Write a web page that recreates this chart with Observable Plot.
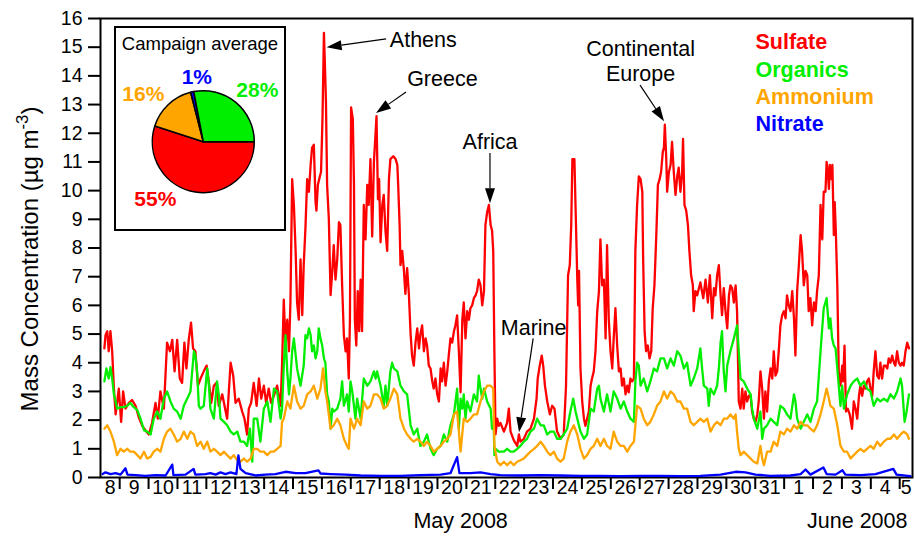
<!DOCTYPE html>
<html>
<head>
<meta charset="utf-8">
<script src="https://cdn.jsdelivr.net/npm/d3@7"></script>
<script src="https://cdn.jsdelivr.net/npm/@observablehq/plot@0.6"></script>
<style>
  body { margin: 0; background: #fff; }
  #chart svg { display: block; }
</style>
</head>
<body>
<div id="chart"></div>
<script>
// Aerosol composition time series, 8 May – 5 June 2008.
// Times are days since 2008-05-08 00:00 UTC; values in µg m-3.

const sulfate = [
[0.47,4.5],[0.51,4.96],[0.57,5.1],[0.62,4.4],[0.68,5.1],[0.74,4.4],[0.80,3.1],[0.86,2.2],[0.97,3.1],[1.05,1.94],[1.12,3.0],[1.20,2.4],[1.32,2.6],[1.43,2.7],[1.55,2.5],[1.66,2.1],[1.78,1.8],[1.89,1.65],[2.01,1.5],[2.12,1.9],[2.24,2.6],[2.32,2.05],[2.41,3.0],[2.53,2.4],[2.64,4.7],[2.74,4.4],[2.82,4.8],[2.90,3.7],[2.99,4.8],[3.08,3.45],[3.16,3.3],[3.24,4.7],[3.31,3.8],[3.39,4.8],[3.47,5.4],[3.54,4.5],[3.62,4.4],[3.71,3.2],[3.80,3.45],[3.91,3.7],[4.01,3.9],[4.09,3.3],[4.17,2.6],[4.26,3.2],[4.35,3.3],[4.43,2.5],[4.55,2.9],[4.63,2.5],[4.72,2.05],[4.84,4.0],[4.93,3.55],[5.01,2.6],[5.12,2.75],[5.24,2.3],[5.32,2.05],[5.41,1.5],[5.47,2.4],[5.55,2.6],[5.64,3.3],[5.74,2.5],[5.82,3.45],[5.90,2.75],[5.99,3.2],[6.07,2.6],[6.16,3.1],[6.24,2.6],[6.34,2.85],[6.45,3.2],[6.57,2.5],[6.62,3.9],[6.68,6.2],[6.74,4.6],[6.80,5.5],[6.86,4.4],[6.91,6.1],[6.97,10.4],[7.03,9.5],[7.09,7.9],[7.14,6.1],[7.20,5.5],[7.26,7.6],[7.32,5.66],[7.37,7.4],[7.43,8.7],[7.49,10.4],[7.55,9.96],[7.61,10.9],[7.66,11.5],[7.72,11.6],[7.78,9.6],[7.81,9.3],[7.86,10.2],[7.93,10.5],[7.97,10.65],[8.02,12.5],[8.07,15.5],[8.10,14.5],[8.14,13.1],[8.18,10.2],[8.24,9.0],[8.30,6.36],[8.36,7.2],[8.41,8.1],[8.47,6.9],[8.53,7.6],[8.59,8.9],[8.64,8.8],[8.70,6.7],[8.76,4.96],[8.82,4.4],[8.87,4.85],[8.93,3.45],[8.97,5.5],[9.01,12.9],[9.07,12.5],[9.11,10.2],[9.14,5.5],[9.19,4.6],[9.24,6.5],[9.29,5.1],[9.34,6.9],[9.39,5.1],[9.45,9.5],[9.51,8.3],[9.57,10.2],[9.62,9.5],[9.68,11.1],[9.74,8.4],[9.80,11.0],[9.86,12.05],[9.89,12.6],[9.94,9.7],[9.98,10.4],[10.03,8.2],[10.09,9.5],[10.14,9.85],[10.20,8.6],[10.26,7.9],[10.32,10.4],[10.37,11.1],[10.47,11.2],[10.55,11.1],[10.61,10.9],[10.64,10.2],[10.69,8.8],[10.72,7.4],[10.78,7.9],[10.84,7.2],[10.89,6.4],[10.95,7.3],[11.01,6.4],[11.07,5.0],[11.12,4.25],[11.18,3.9],[11.24,4.7],[11.30,5.2],[11.36,4.5],[11.41,5.0],[11.47,5.3],[11.53,4.4],[11.59,4.85],[11.64,4.6],[11.70,3.9],[11.76,3.8],[11.82,3.35],[11.87,3.1],[11.93,3.45],[11.99,2.9],[12.05,2.65],[12.11,3.8],[12.16,3.35],[12.22,4.0],[12.28,3.2],[12.34,3.7],[12.39,4.25],[12.45,4.85],[12.51,4.7],[12.57,5.1],[12.62,5.3],[12.68,5.65],[12.74,4.4],[12.80,2.97],[12.86,5.5],[12.91,6.1],[12.97,4.85],[13.03,5.8],[13.09,5.5],[13.14,5.9],[13.20,6.0],[13.26,6.25],[13.32,6.35],[13.37,6.5],[13.43,6.9],[13.49,6.7],[13.55,6.0],[13.61,6.5],[13.66,8.8],[13.72,9.25],[13.78,9.5],[13.84,8.8],[13.89,8.6],[13.93,7.9],[13.97,4.4],[14.01,1.5],[14.07,2.05],[14.12,1.8],[14.18,1.9],[14.30,1.6],[14.41,1.9],[14.47,2.4],[14.53,1.6],[14.64,1.3],[14.76,1.1],[14.82,1.5],[14.87,1.25],[14.99,1.35],[15.10,1.6],[15.22,1.7],[15.34,2.05],[15.43,2.75],[15.47,3.45],[15.54,3.9],[15.61,4.25],[15.66,3.9],[15.72,3.2],[15.80,2.65],[15.89,2.2],[15.97,2.5],[16.05,2.4],[16.14,1.6],[16.26,1.35],[16.37,1.5],[16.45,3.2],[16.52,7.05],[16.58,7.4],[16.63,8.8],[16.67,11.1],[16.74,11.1],[16.79,9.0],[16.84,6.9],[16.87,6.0],[16.90,7.2],[16.95,3.8],[17.01,2.65],[17.07,2.05],[17.12,1.8],[17.18,2.05],[17.24,2.3],[17.30,3.2],[17.35,3.45],[17.41,3.7],[17.47,4.4],[17.53,5.8],[17.59,6.5],[17.64,8.3],[17.70,6.7],[17.76,6.9],[17.82,4.85],[17.87,8.1],[17.93,5.5],[17.99,4.4],[18.05,3.8],[18.10,4.85],[18.16,5.9],[18.22,4.6],[18.28,3.7],[18.34,3.8],[18.39,3.2],[18.45,3.45],[18.51,2.9],[18.57,3.2],[18.62,2.97],[18.68,3.45],[18.74,3.35],[18.80,3.45],[18.85,7.9],[18.91,9.5],[18.97,10.5],[19.03,10.4],[19.09,9.96],[19.12,7.6],[19.17,5.1],[19.22,4.4],[19.28,4.6],[19.34,4.15],[19.40,4.4],[19.45,5.9],[19.51,6.7],[19.57,8.3],[19.63,10.2],[19.69,10.4],[19.74,10.65],[19.80,11.35],[19.84,11.5],[19.87,12.3],[19.92,11.1],[19.95,9.96],[20.01,10.65],[20.07,10.9],[20.12,11.7],[20.18,10.65],[20.24,9.85],[20.30,10.5],[20.35,10.8],[20.41,9.96],[20.47,10.65],[20.50,11.8],[20.55,9.5],[20.61,9.3],[20.67,8.8],[20.72,7.9],[20.78,7.05],[20.84,6.7],[20.87,5.8],[20.93,6.5],[20.99,6.35],[21.05,6.6],[21.10,6.8],[21.20,6.25],[21.28,6.9],[21.36,6.1],[21.43,7.05],[21.51,5.55],[21.57,6.6],[21.62,6.35],[21.68,7.05],[21.74,7.4],[21.80,6.35],[21.85,5.66],[21.91,6.6],[21.97,5.8],[22.03,5.2],[22.09,6.35],[22.14,6.7],[22.20,6.6],[22.26,6.1],[22.32,6.7],[22.37,5.8],[22.43,2.65],[22.49,2.4],[22.55,3.1],[22.60,2.4],[22.66,3.0],[22.72,2.65],[22.78,2.85],[22.84,2.85],[22.89,2.3],[22.95,2.05],[23.01,1.94],[23.07,2.2],[23.12,2.65],[23.18,3.7],[23.24,3.1],[23.30,2.05],[23.35,3.0],[23.41,2.3],[23.47,3.35],[23.53,3.8],[23.59,3.45],[23.64,4.4],[23.70,3.55],[23.76,3.7],[23.82,4.5],[23.87,5.3],[23.93,5.65],[23.99,5.8],[24.05,5.55],[24.10,6.35],[24.16,6.0],[24.22,5.8],[24.28,6.5],[24.34,5.55],[24.39,4.25],[24.45,6.5],[24.51,7.4],[24.57,8.45],[24.62,7.9],[24.68,6.7],[24.74,7.2],[24.80,7.05],[24.85,5.8],[24.91,6.25],[24.97,5.3],[25.03,6.1],[25.09,5.8],[25.14,6.5],[25.20,7.05],[25.26,9.5],[25.32,8.3],[25.37,9.96],[25.43,9.96],[25.47,11.0],[25.51,10.65],[25.55,10.06],[25.58,10.9],[25.63,10.4],[25.67,10.9],[25.72,8.45],[25.75,9.6],[25.79,8.55],[25.84,6.7],[25.89,3.7],[25.95,3.2],[26.01,3.9],[26.04,3.35],[26.09,4.6],[26.14,2.3],[26.20,2.4],[26.27,2.2],[26.35,1.7],[26.41,2.65],[26.47,2.4],[26.53,2.05],[26.59,2.85],[26.64,3.2],[26.70,2.85],[26.76,3.2],[26.82,3.1],[26.87,3.35],[26.93,3.45],[26.99,3.1],[27.05,2.85],[27.10,3.7],[27.16,4.4],[27.22,3.55],[27.28,3.45],[27.33,4.0],[27.39,3.45],[27.45,3.9],[27.51,3.9],[27.57,3.8],[27.62,4.15],[27.68,4.0],[27.74,4.25],[27.80,4.0],[27.85,3.9],[27.91,4.4],[27.97,4.0],[28.03,3.9],[28.08,4.0],[28.14,3.9],[28.20,4.4],[28.26,4.7],[28.32,4.5]
];

const organics = [
[0.47,3.35],[0.54,3.8],[0.62,3.45],[0.68,3.85],[0.74,3.45],[0.80,2.9],[0.86,2.65],[0.91,2.4],[1.03,2.45],[1.14,2.45],[1.26,2.5],[1.37,2.6],[1.49,2.45],[1.61,2.35],[1.72,2.05],[1.84,1.65],[1.95,1.6],[2.07,1.5],[2.18,2.05],[2.30,2.3],[2.41,2.05],[2.53,2.75],[2.64,3.0],[2.76,2.65],[2.87,2.4],[2.99,2.3],[3.11,2.05],[3.22,2.5],[3.34,2.75],[3.45,3.0],[3.57,4.4],[3.62,4.25],[3.68,3.7],[3.74,2.5],[3.80,2.4],[3.91,2.5],[4.03,3.8],[4.09,3.2],[4.14,2.4],[4.26,2.05],[4.37,3.35],[4.43,2.9],[4.49,2.05],[4.61,1.94],[4.72,1.82],[4.84,1.6],[4.95,1.5],[5.07,1.6],[5.18,1.25],[5.30,1.25],[5.41,1.1],[5.51,1.7],[5.59,0.55],[5.64,2.05],[5.76,2.05],[5.87,1.25],[5.99,2.4],[6.11,2.65],[6.22,1.94],[6.34,3.1],[6.45,3.0],[6.57,2.05],[6.62,2.4],[6.68,3.9],[6.74,4.96],[6.80,3.7],[6.86,2.9],[6.91,3.45],[6.97,4.4],[7.03,4.85],[7.14,3.8],[7.26,3.2],[7.37,3.9],[7.43,4.96],[7.49,4.85],[7.55,5.2],[7.61,4.96],[7.66,4.4],[7.72,4.6],[7.78,4.15],[7.84,4.4],[7.89,5.2],[7.95,4.85],[8.01,4.6],[8.07,4.15],[8.12,4.0],[8.18,2.9],[8.24,2.65],[8.30,1.7],[8.36,2.4],[8.41,2.3],[8.53,2.4],[8.64,2.75],[8.70,3.35],[8.76,2.5],[8.87,2.9],[8.93,2.3],[8.99,3.35],[9.05,3.0],[9.11,2.5],[9.16,2.05],[9.22,2.75],[9.34,2.05],[9.45,3.45],[9.57,3.2],[9.68,3.35],[9.80,3.7],[9.86,3.45],[9.91,3.7],[10.03,3.2],[10.14,2.5],[10.20,3.2],[10.26,2.5],[10.37,3.7],[10.43,4.0],[10.49,3.8],[10.61,3.7],[10.72,3.2],[10.84,3.0],[10.95,2.9],[11.07,1.82],[11.18,1.5],[11.30,1.7],[11.41,1.1],[11.53,1.25],[11.64,1.5],[11.76,1.0],[11.87,0.78],[11.99,1.0],[12.11,1.1],[12.22,1.5],[12.34,1.25],[12.45,1.82],[12.57,2.2],[12.68,3.1],[12.74,1.7],[12.80,2.75],[12.86,2.4],[12.91,2.9],[12.97,2.05],[13.03,2.65],[13.14,2.3],[13.26,2.9],[13.37,2.65],[13.43,3.55],[13.49,3.1],[13.55,2.75],[13.61,3.1],[13.72,2.65],[13.84,2.4],[13.89,1.7],[13.95,1.7],[13.97,0.78],[14.01,1.0],[14.12,0.9],[14.18,0.9],[14.30,0.9],[14.41,1.0],[14.53,0.9],[14.64,0.9],[14.76,1.0],[14.87,1.1],[14.99,1.25],[15.10,1.35],[15.22,1.6],[15.34,1.7],[15.45,2.05],[15.57,1.82],[15.68,1.82],[15.80,1.5],[15.91,1.6],[16.03,1.6],[16.14,1.35],[16.26,1.35],[16.37,1.5],[16.49,1.7],[16.60,2.3],[16.70,2.75],[16.78,2.3],[16.84,2.05],[16.95,1.6],[17.07,1.35],[17.18,1.5],[17.30,2.4],[17.41,2.3],[17.53,3.1],[17.59,3.2],[17.64,2.75],[17.76,2.3],[17.87,2.9],[17.99,2.3],[18.10,3.0],[18.22,2.75],[18.34,2.4],[18.45,2.65],[18.57,2.3],[18.68,2.05],[18.80,1.94],[18.85,3.35],[18.91,4.0],[18.97,3.9],[19.03,3.2],[19.14,3.45],[19.26,3.0],[19.37,3.35],[19.49,3.8],[19.60,3.7],[19.72,4.15],[19.84,4.15],[19.95,3.8],[20.07,4.15],[20.18,3.9],[20.30,4.4],[20.41,4.25],[20.53,3.8],[20.64,4.0],[20.76,3.2],[20.87,3.45],[20.99,3.8],[21.10,4.5],[21.16,3.8],[21.22,3.2],[21.34,3.1],[21.39,2.5],[21.45,3.1],[21.57,2.9],[21.68,3.2],[21.74,3.8],[21.80,4.7],[21.85,5.1],[21.91,3.7],[21.97,3.0],[22.03,3.9],[22.14,4.4],[22.26,4.85],[22.37,5.3],[22.43,4.4],[22.49,3.45],[22.60,3.35],[22.72,3.1],[22.84,2.9],[22.89,2.4],[22.95,2.05],[23.07,1.7],[23.18,2.3],[23.24,1.35],[23.30,1.7],[23.41,1.82],[23.53,2.05],[23.64,1.94],[23.76,1.82],[23.87,2.5],[23.99,2.4],[24.10,2.2],[24.22,2.05],[24.34,2.9],[24.39,2.65],[24.45,2.05],[24.57,1.7],[24.68,1.94],[24.80,2.2],[24.91,1.94],[25.03,2.4],[25.14,2.65],[25.26,4.4],[25.37,5.9],[25.47,6.25],[25.55,5.2],[25.60,5.55],[25.66,4.85],[25.72,4.6],[25.78,4.5],[25.84,3.8],[25.95,2.5],[26.01,3.2],[26.07,2.4],[26.18,2.9],[26.30,3.2],[26.41,3.35],[26.53,3.45],[26.64,3.2],[26.76,3.35],[26.87,3.1],[26.99,3.0],[27.10,2.5],[27.22,2.75],[27.33,2.65],[27.45,2.75],[27.57,2.65],[27.68,2.9],[27.80,2.75],[27.91,3.0],[28.03,3.45],[28.08,3.2],[28.17,1.94],[28.24,2.3],[28.32,2.9]
];

const ammonium = [
[0.47,1.7],[0.57,1.82],[0.68,1.6],[0.80,1.25],[0.91,0.78],[1.03,1.0],[1.14,0.9],[1.26,1.0],[1.37,0.9],[1.49,0.9],[1.61,0.78],[1.72,0.66],[1.84,0.9],[1.95,0.66],[2.07,0.72],[2.18,0.9],[2.30,1.0],[2.41,0.9],[2.53,1.35],[2.64,1.6],[2.76,1.7],[2.87,1.5],[2.99,1.25],[3.11,1.35],[3.22,1.6],[3.34,1.35],[3.45,1.6],[3.57,1.5],[3.68,1.1],[3.80,1.25],[3.91,1.0],[4.03,1.25],[4.14,0.9],[4.26,1.0],[4.37,0.9],[4.49,0.78],[4.61,0.9],[4.72,0.78],[4.84,0.66],[4.95,0.78],[5.07,0.6],[5.18,0.55],[5.30,0.66],[5.41,0.55],[5.53,0.66],[5.64,1.0],[5.76,1.0],[5.87,0.9],[5.99,0.9],[6.11,0.78],[6.22,0.9],[6.34,0.9],[6.45,1.0],[6.57,1.1],[6.62,1.94],[6.68,2.05],[6.80,2.65],[6.91,2.4],[7.03,3.2],[7.14,2.65],[7.26,2.4],[7.37,2.5],[7.49,2.9],[7.61,3.0],[7.72,3.2],[7.84,2.75],[7.95,3.1],[8.04,3.8],[8.12,3.0],[8.18,2.65],[8.30,1.7],[8.41,1.82],[8.53,2.05],[8.64,1.82],[8.76,1.35],[8.87,1.1],[8.93,1.0],[8.99,2.05],[9.11,1.7],[9.22,2.05],[9.34,1.82],[9.45,2.65],[9.57,2.4],[9.68,2.5],[9.80,2.9],[9.91,2.9],[10.03,2.75],[10.14,2.4],[10.26,2.5],[10.37,2.75],[10.49,3.1],[10.61,2.9],[10.72,2.05],[10.84,1.7],[10.95,1.5],[11.07,1.35],[11.18,1.25],[11.30,1.35],[11.41,1.25],[11.53,1.1],[11.64,1.25],[11.76,1.1],[11.87,0.9],[11.99,1.0],[12.11,1.1],[12.22,1.25],[12.34,1.35],[12.45,1.5],[12.57,2.2],[12.68,2.3],[12.80,0.9],[12.91,2.05],[13.03,1.94],[13.14,2.05],[13.26,2.2],[13.37,2.2],[13.49,2.65],[13.61,3.0],[13.72,3.2],[13.84,3.2],[13.93,3.1],[13.97,1.1],[14.07,0.55],[14.18,0.43],[14.30,0.55],[14.41,0.43],[14.53,0.55],[14.64,0.43],[14.76,0.55],[14.87,0.6],[14.99,0.66],[15.10,0.78],[15.22,0.9],[15.34,1.0],[15.45,1.1],[15.57,1.25],[15.68,1.1],[15.80,0.9],[15.91,0.78],[16.03,0.9],[16.14,0.66],[16.26,0.55],[16.37,0.66],[16.49,1.25],[16.60,1.6],[16.72,1.82],[16.84,1.5],[16.95,1.0],[17.07,0.66],[17.18,0.78],[17.30,1.0],[17.41,1.1],[17.53,1.35],[17.64,1.1],[17.76,1.35],[17.87,1.1],[17.99,1.0],[18.10,1.6],[18.22,1.25],[18.34,1.1],[18.45,1.1],[18.57,0.9],[18.68,1.1],[18.80,1.25],[18.85,1.82],[18.91,2.5],[19.03,2.4],[19.14,2.05],[19.26,1.82],[19.37,1.94],[19.49,2.2],[19.60,2.5],[19.72,2.65],[19.84,3.0],[19.95,2.75],[20.07,3.0],[20.18,2.9],[20.30,2.65],[20.41,2.65],[20.53,2.4],[20.64,2.4],[20.76,1.94],[20.87,1.82],[20.99,1.94],[21.10,2.05],[21.22,1.94],[21.34,2.05],[21.45,1.6],[21.57,1.82],[21.68,1.94],[21.80,1.82],[21.91,2.05],[22.03,2.05],[22.14,2.2],[22.26,2.05],[22.32,2.2],[22.37,1.6],[22.43,1.0],[22.49,0.78],[22.60,0.9],[22.72,0.78],[22.84,0.66],[22.95,0.55],[23.07,0.49],[23.18,1.1],[23.24,0.66],[23.30,0.43],[23.41,0.9],[23.53,0.9],[23.64,1.25],[23.76,1.1],[23.87,1.6],[23.99,1.5],[24.10,1.7],[24.22,1.6],[24.34,1.82],[24.45,1.7],[24.57,1.94],[24.68,1.82],[24.80,1.82],[24.91,1.7],[25.03,1.6],[25.14,1.82],[25.26,2.2],[25.37,2.65],[25.47,3.1],[25.55,2.75],[25.60,2.5],[25.72,2.4],[25.84,1.82],[25.95,1.1],[26.07,0.9],[26.18,0.9],[26.30,0.66],[26.41,0.78],[26.53,0.9],[26.64,1.0],[26.76,0.9],[26.87,1.0],[26.99,1.1],[27.10,1.0],[27.22,1.25],[27.33,1.1],[27.45,1.25],[27.57,1.35],[27.68,1.35],[27.80,1.5],[27.91,1.35],[28.03,1.5],[28.14,1.6],[28.26,1.5],[28.32,1.35]
];

const nitrate = [
[0.41,0.12],[0.51,0.18],[0.68,0.12],[0.86,0.15],[1.03,0.1],[1.20,0.32],[1.27,0.1],[1.55,0.08],[1.89,0.06],[2.24,0.08],[2.59,0.07],[2.82,0.45],[2.86,0.08],[3.28,0.1],[3.56,0.3],[3.62,0.1],[3.97,0.12],[4.14,0.15],[4.32,0.1],[4.49,0.18],[4.66,0.12],[4.84,0.18],[5.04,0.12],[5.11,0.77],[5.18,0.3],[5.36,0.15],[5.70,0.07],[6.05,0.1],[6.39,0.12],[6.74,0.2],[7.09,0.15],[7.43,0.15],[7.88,0.25],[7.95,0.14],[8.30,0.12],[8.82,0.1],[9.34,0.07],[10.03,0.06],[10.72,0.06],[11.41,0.08],[12.11,0.1],[12.45,0.15],[12.68,0.71],[12.76,0.15],[13.14,0.15],[13.49,0.18],[13.84,0.12],[14.18,0.08],[14.87,0.07],[15.57,0.08],[16.26,0.07],[16.95,0.06],[17.64,0.06],[18.34,0.05],[19.03,0.06],[19.72,0.06],[20.41,0.05],[21.10,0.06],[21.80,0.1],[22.32,0.2],[22.66,0.18],[23.01,0.1],[23.53,0.06],[24.22,0.07],[24.57,0.12],[24.74,0.28],[24.91,0.1],[25.36,0.35],[25.47,0.12],[25.78,0.1],[26.02,0.25],[26.12,0.1],[26.64,0.08],[27.16,0.12],[27.78,0.3],[27.89,0.1],[28.37,0.05]
];

// Campaign-average mass fractions (%), listed clockwise from 3 o'clock
const pieSpecies = ["Sulfate", "Ammonium", "Nitrate", "Organics"];
const pieShares = [55, 16, 1, 28];

const speciesNames = ["Sulfate", "Organics", "Ammonium", "Nitrate"];

// Source-region annotations: label centre and arrow tail/tip, in (days, µg m-3)
const noteLabels = ["Athens", "Greece", "Africa", "Marine", "Continental\nEurope"];
const noteText = [[11.51, 15.30], [12.17, 13.91], [13.82, 11.73], [15.33, 5.26], [19.03, 14.52]];
const noteTail = [[10.24, 15.27], [10.93, 13.42], [13.835, 11.29], [15.33, 4.83], [19.03, 13.66]];
const noteTip  = [[8.18, 14.98], [9.89, 12.69], [13.835, 9.54], [14.84, 1.56], [19.86, 12.40]];

// ---------------------------------------------------------------------------
const colors = {Sulfate: "#ff0000", Organics: "#00ee00", Ammonium: "#ffa500", Nitrate: "#0000ff"};
const series = {Sulfate: sulfate, Organics: organics, Ammonium: ammonium, Nitrate: nitrate};

const t0 = Date.UTC(2008, 4, 8);
const at = (t) => new Date(t0 + t * 864e5);
const tStart = 0.336, tEnd = 28.443;   // visible time window

const rows = (name) => series[name].map(([t, v]) => ({date: at(t), value: v}));

// midnight boundaries get ticks; day numbers sit in the middle of each visible day
const boundaries = d3.range(1, 29).map(at);
const dayLabels = d3.range(0, 29).map((d) => ({
  mid: at((Math.max(d, tStart) + Math.min(d + 1, tEnd)) / 2),
  label: String(at(d).getUTCDate())
}));

const notes = noteLabels.map((text, i) => ({
  text, date: at(noteText[i][0]), value: noteText[i][1],
  tail: noteTail[i], tip: noteTip[i]
}));

const font = "'Liberation Sans', Arial, Helvetica, sans-serif";

const chart = Plot.plot({
  width: 915,
  height: 538,
  marginLeft: 100,
  marginRight: 3,
  marginTop: 18,
  marginBottom: 61,
  style: {fontFamily: font, background: "white", color: "black"},
  x: {type: "utc", domain: [at(tStart), at(tEnd)]},
  y: {domain: [0, 16]},
  marks: [
    Plot.frame({stroke: "black", strokeWidth: 2}),
    Plot.axisY(d3.range(0, 17), {tickSize: 12, tickPadding: 6, fontSize: 19.5, strokeWidth: 2, label: null}),
    Plot.axisX(boundaries, {tickSize: 12, tickFormat: () => "", strokeWidth: 2, label: null}),
    Plot.text(dayLabels, {x: "mid", text: "label", frameAnchor: "bottom", dy: 16, fontSize: 19.5}),
    Plot.text(["May 2008"], {x: [at(12.8)], frameAnchor: "bottom", dy: 50, fontSize: 21.5}),
    Plot.text(["June 2008"], {frameAnchor: "bottom-right", dx: -5, dy: 50, textAnchor: "end", fontSize: 21.5}),
    ...speciesNames.map((name) =>
      Plot.line(rows(name), {x: "date", y: "value", stroke: colors[name], strokeWidth: 2.3, strokeLinejoin: "round"})
    ),
    ...speciesNames.map((name, i) =>
      Plot.text([name], {
        frameAnchor: "top-left", dx: 655, dy: 15.5 + 27.3 * i, textAnchor: "start",
        fill: colors[name], fontWeight: "bold", fontSize: 21.5
      })
    ),
    Plot.text(notes, {x: "date", y: "value", text: "text", fontSize: 21.5, lineHeight: 1.16, fill: "black"})
  ]
});

const svg = d3.select(chart);
const xs = chart.scale("x"), ys = chart.scale("y");

// annotation arrows with filled heads
const arrows = svg.append("g");
notes.forEach((n) => {
  const x1 = xs.apply(at(n.tail[0])), y1 = ys.apply(n.tail[1]);
  const x2 = xs.apply(at(n.tip[0])), y2 = ys.apply(n.tip[1]);
  const a = Math.atan2(y2 - y1, x2 - x1), L = 15, W = 5;
  const bx = x2 - L * Math.cos(a), by = y2 - L * Math.sin(a);
  arrows.append("line")
    .attr("x1", x1).attr("y1", y1).attr("x2", bx).attr("y2", by)
    .attr("stroke", "black").attr("stroke-width", 1.2);
  arrows.append("path")
    .attr("d", `M${x2},${y2}L${bx - W * Math.sin(a)},${by + W * Math.cos(a)}L${bx + W * Math.sin(a)},${by - W * Math.cos(a)}Z`)
    .attr("fill", "black");
});

// y-axis title with superscript
const ytitle = svg.append("text")
  .attr("transform", "translate(38,259) rotate(-90)")
  .attr("text-anchor", "middle")
  .attr("font-family", font)
  .attr("font-size", 24)
  .attr("fill", "black");
ytitle.append("tspan").text("Mass Concentration (\u00b5g m");
ytitle.append("tspan").attr("dy", "-0.6em").attr("font-size", "0.7em").text("-3");
ytitle.append("tspan").attr("dy", "0.42em").text(")");

// campaign-average inset
const inset = svg.append("g").attr("font-family", font);
inset.append("rect")
  .attr("x", 115).attr("y", 27).attr("width", 170).attr("height", 203)
  .attr("fill", "white").attr("stroke", "black").attr("stroke-width", 2);
inset.append("text")
  .attr("x", 200).attr("y", 43.5).attr("dy", "0.35em").attr("text-anchor", "middle")
  .attr("font-size", 18.5).attr("fill", "black").text("Campaign average");

const slices = d3.pie().sort(null)
  .startAngle(Math.PI / 2).endAngle(Math.PI / 2 + 2 * Math.PI)
  .value((d) => d.share)(pieSpecies.map((name, i) => ({name, share: pieShares[i]})));
const arc = d3.arc().innerRadius(0).outerRadius(51);
const pieG = inset.append("g").attr("transform", "translate(203.3,141.7)");
pieG.selectAll("path").data(slices).join("path")
  .attr("d", arc)
  .attr("fill", (d) => colors[d.data.name])
  .attr("stroke", "black").attr("stroke-width", 1.5).attr("stroke-linejoin", "round");

const labelOffset = {Sulfate: [-48, 57], Ammonium: [-60, -48.5], Nitrate: [-6.5, -65], Organics: [54, -52.5]};
pieG.selectAll("text.share").data(slices).join("text")
  .attr("class", "share")
  .attr("x", (d) => labelOffset[d.data.name][0])
  .attr("y", (d) => labelOffset[d.data.name][1])
  .attr("dy", "0.35em").attr("text-anchor", "middle")
  .attr("font-size", 21).attr("font-weight", "bold")
  .attr("fill", (d) => colors[d.data.name])
  .text((d) => `${d.data.share}%`);

document.getElementById("chart").appendChild(chart);
</script>
</body>
</html>
